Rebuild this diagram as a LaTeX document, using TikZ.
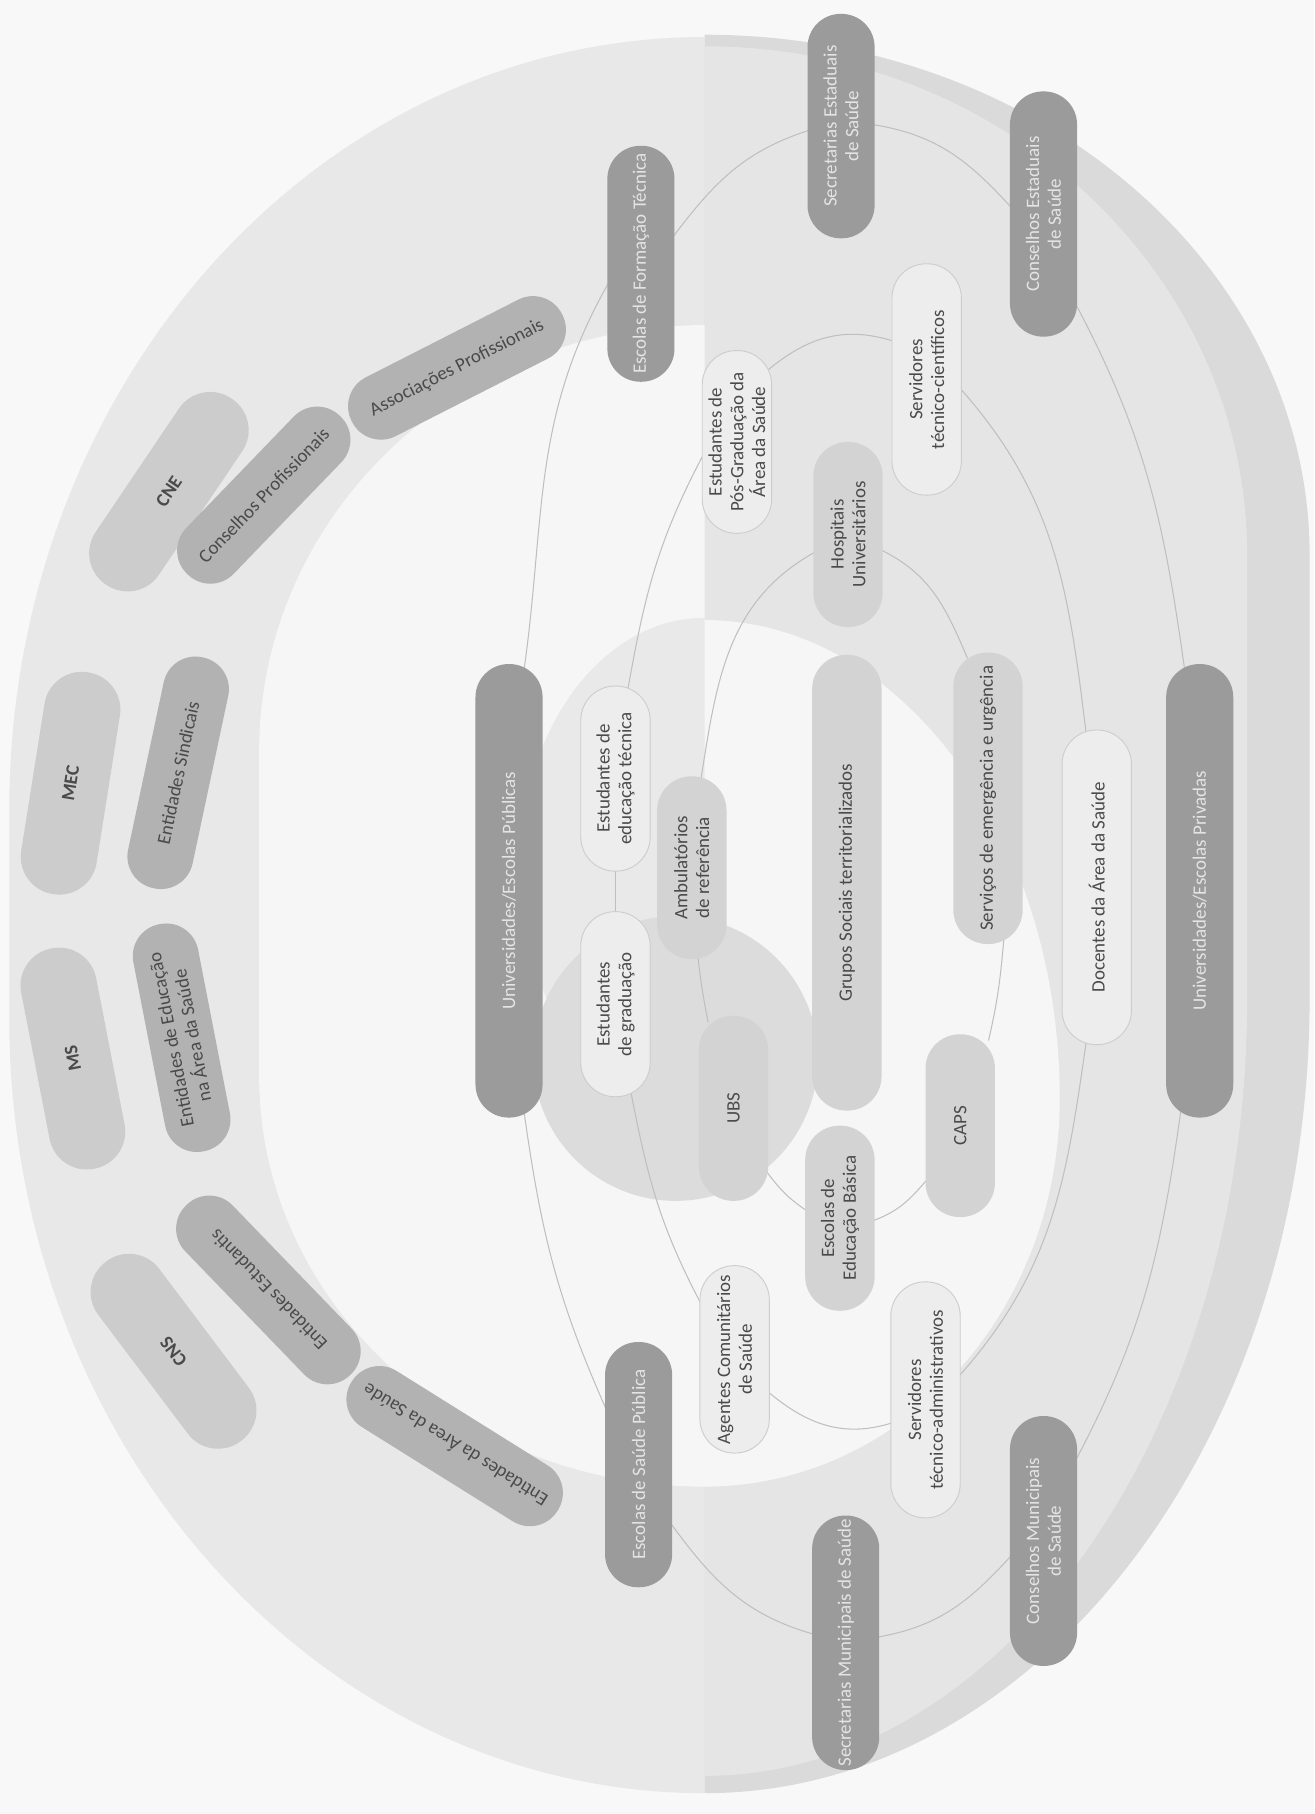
\documentclass[tikz,border=0pt]{standalone}
\usepackage{fontspec}
\setmainfont{Carlito}
\pgfdeclarelayer{back}
\pgfdeclarelayer{lines}
\pgfsetlayers{back,lines,main}
\definecolor{pagebg}{HTML}{F8F8F8}
\definecolor{ringc}{HTML}{E8E8E8}
\definecolor{rtwoc}{HTML}{E5E5E5}
\definecolor{crescent}{HTML}{DADADA}
\definecolor{innerc}{HTML}{F6F6F6}
\definecolor{leftc}{HTML}{E9E9E9}
\definecolor{diskc}{HTML}{DCDCDC}
\definecolor{dkfill}{HTML}{9B9B9B}
\definecolor{dktext}{HTML}{E4E4E4}
\definecolor{mdfill}{HTML}{D3D3D3}
\definecolor{ltfill}{HTML}{EDEDED}
\definecolor{ltdraw}{HTML}{CDCDCD}
\definecolor{ocfill}{HTML}{CCCCCC}
\definecolor{icfill}{HTML}{B2B2B2}
\definecolor{txtc}{HTML}{4A4A4A}
\definecolor{connc}{HTML}{BFBFBF}
\newcommand{\nfont}{\fontsize{8.2}{9.4}\selectfont}
\begin{document}
\begin{tikzpicture}[x=0.5pt,y=0.5pt,
  pill/.style={inner sep=1pt, align=center, font=\nfont, text=txtc},
  dnode/.style={pill, rotate=90, fill=dkfill, text=dktext, minimum height=29pt, rounded corners=14.3pt},
  mnode/.style={pill, rotate=90, fill=mdfill, minimum height=30pt, rounded corners=14.8pt},
  lnode/.style={pill, rotate=90, fill=ltfill, draw=ltdraw, line width=0.4pt, minimum height=30pt, rounded corners=14.8pt},
  onode/.style={pill, fill=ocfill, minimum height=33pt, minimum width=97pt, rounded corners=16.3pt, font=\nfont\bfseries},
  inode/.style={pill, fill=icfill, minimum height=28.5pt, rounded corners=14pt},
  conn/.style={draw=connc, line width=0.45pt, shorten <=-3pt, shorten >=-3pt}]
\useasboundingbox (0,0) rectangle (1136,-1568);
\begin{pgfonlayer}{back}
\fill[pagebg] (0,0) rectangle (1136,-1568);
% left ring (outer boundary)
\fill[ringc] (609,-32) arc[start angle=90,end angle=180,x radius=601,y radius=668]
   -- (8,-880) arc[start angle=180,end angle=270,x radius=601,y radius=670] -- cycle;
% right outer crescent
\fill[crescent] (609,-30) arc[start angle=90,end angle=0,x radius=523,y radius=450]
   -- (1132,-863) arc[start angle=0,end angle=-90,x radius=523,y radius=687] -- cycle;
% right band inside the crescent
\fill[rtwoc] (609,-40) arc[start angle=90,end angle=0,x radius=469,y radius=440]
   -- (1078,-863) arc[start angle=0,end angle=-90,x radius=469,y radius=672] -- cycle;
% white interior
\fill[innerc] (609,-281) arc[start angle=90,end angle=180,x radius=385,y radius=369]
   -- (224,-930) arc[start angle=180,end angle=270,x radius=385,y radius=355]
   arc[start angle=270,end angle=360,x radius=307,y radius=335]
   arc[start angle=0,end angle=90,x radius=307,y radius=414] -- cycle;
% light region on the left of the centre
\fill[leftc] (609,-534) arc[start angle=90,end angle=270,x radius=160,y radius=216] -- cycle;
% disk round UBS
\fill[diskc] (584,-915) circle[radius=123];
\end{pgfonlayer}

% dark nodes
\node[dnode, minimum width=196pt] (upub) at (440,-770) {Universidades/Escolas Públicas};
\node[dnode, minimum width=196pt] (upriv) at (1037,-770) {Universidades/Escolas Privadas};
\node[dnode, minimum width=102pt] (eft) at (554,-228) {Escolas de Formação Técnica};
\node[dnode, minimum width=106pt] (esp) at (552,-1266) {Escolas de Saúde Pública};
\node[dnode, minimum width=97pt] (sest) at (727,-109) {Secretarias Estaduais\\de Saúde};
\node[dnode, minimum width=106pt] (cest) at (902,-185) {Conselhos Estaduais\\de Saúde};
\node[dnode, minimum width=110pt] (smun) at (731,-1420) {Secretarias Municipais de Saúde};
\node[dnode, minimum width=108pt] (cmun) at (902,-1332) {Conselhos Municipais\\de Saúde};

% medium nodes
\node[mnode, minimum width=80pt] (hosp) at (733,-462) {Hospitais\\Universitários};
\node[mnode, minimum width=79pt] (amb) at (598,-750) {Ambulatórios\\de referência};
\node[mnode, minimum width=197pt] (grupos) at (732,-763) {Grupos Sociais territorializados};
\node[mnode, minimum width=126pt] (serv) at (854,-690) {Serviços de emergência e urgência};
\node[mnode, minimum width=80pt] (ubs) at (634,-958) {UBS};
\node[mnode, minimum width=79pt] (caps) at (830,-973) {CAPS};
\node[mnode, minimum width=80pt] (eeb) at (726,-1053) {Escolas de\\Educação Básica};

% light nodes
\node[lnode, minimum width=80pt] (eet) at (532,-673) {Estudantes de\\educação técnica};
\node[lnode, minimum width=80pt] (egr) at (532,-868) {Estudantes\\de graduação};
\node[lnode, minimum width=79pt] (pg) at (637,-382) {Estudantes de\\Pós-Graduação da\\Área da Saúde};
\node[lnode, minimum width=100pt] (stc) at (801,-328) {Servidores\\técnico-científicos};
\node[lnode, minimum width=136pt] (doc) at (948,-767) {Docentes da Área da Saúde};
\node[lnode, minimum width=81pt] (ag) at (635,-1175) {Agentes Comunitários\\de Saúde};
\node[lnode, minimum width=102pt] (sta) at (800,-1210) {Servidores\\técnico-administrativos};

% outer ring, outer column
\node[onode, rotate=56] (cne) at (146,-425) {CNE};
\node[onode, rotate=81] (mec) at (61,-677) {MEC};
\node[onode, rotate=101] (ms) at (63,-915) {MS};
\node[onode, rotate=127] (cns) at (150,-1168) {CNS};

% outer ring, inner column
\node[inode, rotate=27, minimum width=102pt] (assoc) at (395,-318) {Associações Profissionais};
\node[inode, rotate=46, minimum width=95pt] (cprof) at (228,-428) {Conselhos Profissionais};
\node[inode, rotate=78, minimum width=102pt] (esind) at (154,-668) {Entidades Sindicais};
\node[inode, rotate=101, minimum width=100pt] (eedu) at (157,-897) {Entidades de Educação\\na Área da Saúde};
\node[inode, rotate=134, minimum width=102pt] (eest) at (232,-1115) {Entidades Estudantis};
\node[inode, rotate=148, minimum width=105pt] (earea) at (393,-1250) {Entidades da Área da Saúde};

\begin{pgfonlayer}{lines}
% outer loop through the dark nodes
\draw[conn] (upriv.4) to[out=98,in=298] (cest.200);
\draw[conn] (cest.76) to[out=132,in=352] (sest.272);
\draw[conn] (sest.98) to[out=197,in=53] (eft.311);
\draw[conn] (eft.123) to[out=240,in=82] (upub.356);
\draw[conn] (upub.184) to[out=278,in=114] (esp.30);
\draw[conn] (esp.209) to[out=306,in=165] (smun.75);
\draw[conn] (smun.280) to[out=9,in=228] (cmun.116);
\draw[conn] (cmun.338) to[out=62,in=262] (upriv.175);
% middle loop through the light nodes
\draw[conn] (doc.4) to[out=97,in=312] (stc.253);
\draw[conn] (stc.42) to[out=161,in=40] (pg.335);
\draw[conn] (pg.114) to[out=242,in=80] (eet.352);
\draw[conn] (eet.180) -- (egr.0);
\draw[conn] (egr.190) to[out=281,in=118] (ag.31);
\draw[conn] (ag.226) to[out=319,in=199] (sta.124);
\draw[conn] (sta.306) to[out=48,in=262] (doc.176);
% inner loop through the services
\draw[conn] (serv.9) to[out=113,in=335] (hosp.245);
\draw[conn] (hosp.118) to[out=208,in=81] (amb.354);
\draw[conn] (amb.184) to[out=276,in=101] (ubs.16);
\draw[conn] (ubs.208) to[out=307,in=147] (eeb.76);
\draw[conn] (eeb.267) to[out=19,in=230] (caps.148);
\draw[conn] (caps.342) to[out=77,in=265] (serv.186);
\end{pgfonlayer}
\end{tikzpicture}
\end{document}
